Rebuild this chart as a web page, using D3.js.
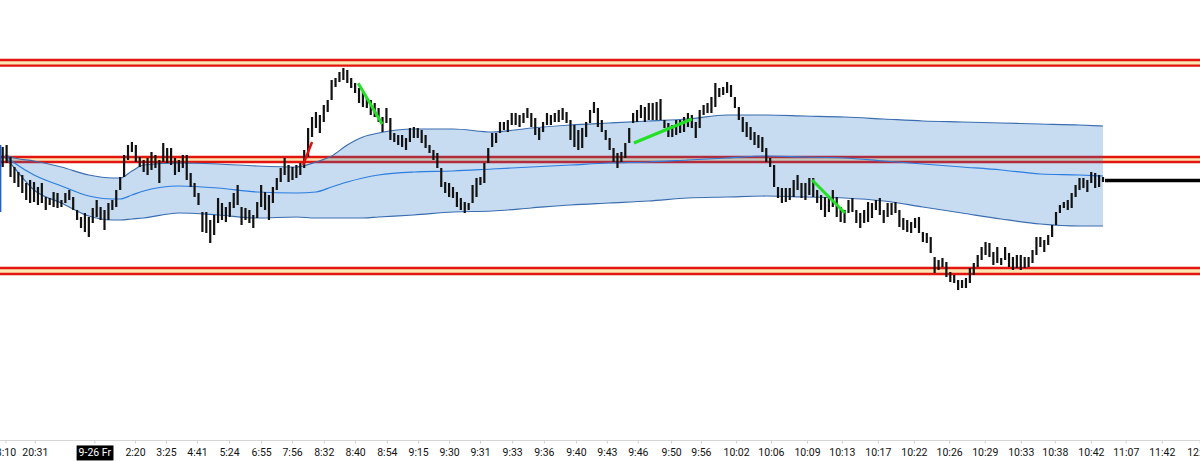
<!DOCTYPE html>
<html><head><meta charset="utf-8">
<script src="https://cdn.jsdelivr.net/npm/d3@7"></script>
<style>html,body{margin:0;padding:0;background:#fff;overflow:hidden}</style>
</head><body><svg id="c" width="1200" height="461"></svg>
<script>
// ---- data (price units) ----
const highs=[2853,2855,2843,2833,2828,2825,2817,2820,2818,2813,
2817,2803,2802,2808,2807,2800,2807,2810,2803,2790,
2783,2787,2783,2792,2800,2793,2790,2797,2800,2810,
2823,2845,2855,2858,2855,2843,2840,2842,2848,2845,
2840,2857,2852,2852,2842,2840,2845,2845,2827,2817,
2807,2788,2788,2780,2785,2802,2797,2793,2798,2807,
2815,2793,2792,2790,2785,2798,2815,2808,2805,2813,
2822,2832,2842,2835,2833,2835,2837,2850,2872,2883,
2888,2885,2895,2900,2920,2922,2928,2932,2930,2922,
2917,2912,2908,2903,2900,2897,2892,2883,2892,2882,
2867,2865,2865,2862,2872,2873,2872,2870,2865,2855,
2850,2847,2832,2818,2817,2813,2808,2802,2798,2797,
2815,2822,2823,2837,2852,2867,2867,2878,2878,2880,
2887,2887,2885,2887,2892,2887,2882,2872,2878,2887,
2885,2887,2890,2892,2888,2880,2875,2870,2872,2878,
2890,2898,2892,2880,2870,2862,2852,2847,2848,2857,
2872,2887,2890,2895,2893,2897,2897,2898,2901,2880,
2877,2875,2880,2880,2883,2887,2885,2878,2890,2895,
2897,2903,2917,2912,2913,2918,2915,2903,2893,2883,
2878,2873,2868,2865,2863,2852,2842,2835,2813,2812,
2812,2812,2820,2825,2817,2817,2822,2822,2810,2805,
2803,2803,2810,2803,2793,2790,2800,2802,2790,2787,
2790,2798,2797,2800,2802,2790,2797,2797,2798,2790,
2782,2780,2778,2782,2783,2768,2767,2763,2743,2740,
2742,2738,2728,2725,2720,2720,2722,2732,2737,2745,
2753,2758,2757,2748,2753,2742,2753,2747,2743,2745,
2745,2743,2743,2750,2763,2763,2760,2765,2775,2788,
2795,2798,2800,2807,2815,2822,2822,2820,2828,2827,
2825,2823];
const lows=[2833,2837,2823,2817,2813,2807,2800,2797,2798,2795,
2797,2790,2795,2793,2792,2793,2797,2800,2790,2780,
2772,2768,2763,2777,2783,2780,2770,2780,2790,2793,
2810,2823,2840,2848,2838,2833,2828,2825,2830,2832,
2817,2838,2837,2835,2825,2828,2832,2820,2813,2803,
2795,2768,2767,2757,2765,2777,2780,2778,2783,2792,
2795,2775,2780,2777,2772,2782,2793,2790,2780,2797,
2810,2818,2825,2818,2820,2822,2825,2832,2843,2863,
2872,2867,2878,2888,2900,2913,2918,2920,2917,2912,
2907,2897,2893,2892,2885,2883,2878,2868,2877,2860,
2858,2855,2853,2850,2858,2862,2862,2857,2852,2847,
2840,2832,2813,2807,2803,2802,2793,2790,2787,2790,
2797,2803,2815,2817,2837,2853,2857,2867,2870,2868,
2875,2875,2873,2877,2882,2873,2865,2860,2868,2875,
2875,2878,2878,2880,2877,2860,2853,2850,2852,2863,
2877,2887,2873,2868,2860,2850,2838,2832,2838,2842,
2857,2877,2878,2882,2878,2880,2880,2880,2880,2872,
2863,2863,2865,2867,2868,2873,2872,2862,2872,2885,
2887,2887,2893,2903,2905,2907,2903,2892,2880,2868,
2863,2860,2855,2852,2848,2838,2833,2813,2802,2797,
2798,2800,2803,2810,2802,2800,2805,2803,2797,2790,
2783,2788,2793,2783,2778,2777,2787,2788,2777,2772,
2777,2778,2782,2790,2785,2777,2783,2785,2787,2773,
2770,2768,2767,2772,2767,2758,2757,2747,2727,2730,
2733,2723,2718,2717,2710,2712,2712,2717,2725,2733,
2740,2745,2743,2735,2737,2735,2740,2733,2730,2732,
2730,2732,2733,2737,2745,2753,2748,2755,2763,2775,
2787,2792,2790,2792,2803,2810,2812,2808,2817,2812,
2813,2818];
const edgeBarIdx=-0.6, edgeBarHigh=2855, edgeBarLow=2788;

const bandIdx=[0.6,3,8,15,22,28,30,33,36,45,55,65,75,80,84,88,92,96,105,115,125,135,145,155,165,175,185,195,205,215,225,235,245,255,265,275,281];
const bandUpper=[2845,2842,2839,2833,2825,2822,2822,2829,2835,2837,2836,2834,2833,2838,2844,2855,2863,2867,2871,2871,2868,2872,2875,2877,2879,2881,2885,2885,2884,2883,2881,2879,2878,2877,2876,2875,2874];
const bandMid=[2844,2837,2825,2814,2804,2801,2801,2805,2809,2814,2812,2808,2807,2808,2813,2818,2822,2825,2828,2829,2831,2833,2835,2837,2838,2840,2842,2844,2843,2842,2839,2836,2833,2830,2826,2825,2824];
const bandLower=[2843,2832,2810,2797,2784,2780,2780,2781,2782,2787,2785,2782,2783,2782,2782,2782,2782,2783,2785,2788,2789,2792,2795,2797,2799,2802,2803,2804,2803,2802,2799,2793,2787,2781,2776,2774,2774];

const levelTop=[2940,2843,2732];
const levelBottom=[2934.3,2838,2726];
const lastPrice=2819.5;

const greenFrom=[[90.8,2916.7],[161.2,2857],[206.7,2820]];
const greenTo=[[96.9,2876],[176.0,2881],[215.1,2787]];
const redFrom=[[76.7,2835]];
const redTo=[[79.0,2858]];

const tickIdx=[0.7,8.2,23.4,33.8,41.7,49.6,57.8,66.0,73.9,82.0,90.0,98.1,106.1,114.0,121.9,130.1,138.2,146.4,154.3,162.2,170.7,178.3,187.3,196.2,205.4,214.3,223.5,232.7,241.7,250.8,260.0,268.7,277.9,286.8,296.0,305.7];
const tickLabels=["8:10","20:31","9-26 Fr","2:20","3:25","4:41","5:24","6:55","7:56","8:32","8:40","8:54","9:15","9:30","9:31","9:33","9:36","9:40","9:43","9:46","9:50","9:56","10:02","10:06","10:09","10:13","10:17","10:22","10:26","10:29","10:33","10:38","10:42","11:07","11:42","12:17"];
const dateLabel="9-26 Fr";

// ---- drawing ----
const W=1200,H=461;
const svg=d3.select("#c");
svg.append("rect").attr("width",W).attr("height",H).attr("fill","#fff");
const x=d3.scaleLinear().domain([0,281]).range([2.7,1103]);
const y=d3.scaleLinear().domain([2560,3000]).range([440,0]);

// levels (cream fill between red lines)
const lv=svg.append("g");
levelTop.forEach((t,i)=>{
  const b=levelBottom[i];
  lv.append("rect").attr("x",0).attr("width",W)
    .attr("y",y(t)).attr("height",y(b)-y(t)).attr("fill","#fbe6b4");
  [t,b].forEach(v=>lv.append("line").attr("x1",0).attr("x2",W)
    .attr("y1",y(v)).attr("y2",y(v)).attr("stroke","#e3160f").attr("stroke-width",2.3));
});

// band
const idxs=d3.range(bandIdx.length);
const area=d3.area().x(i=>x(bandIdx[i])).y0(i=>y(bandLower[i])).y1(i=>y(bandUpper[i])).curve(d3.curveMonotoneX);
svg.append("path").datum(idxs).attr("d",area).attr("fill","#1e6ec8").attr("fill-opacity",0.25);
const mk=arr=>d3.line().x(i=>x(bandIdx[i])).y(i=>y(arr[i])).curve(d3.curveMonotoneX);
svg.append("path").datum(idxs).attr("d",mk(bandUpper)).attr("fill","none").attr("stroke","#3a6db0").attr("stroke-width",1.2);
svg.append("path").datum(idxs).attr("d",mk(bandLower)).attr("fill","none").attr("stroke","#3a6db0").attr("stroke-width",1.2);
svg.append("path").datum(idxs).attr("d",mk(bandMid)).attr("fill","none").attr("stroke","#2b7de0").attr("stroke-width",1.2);

// edge bar
svg.append("line").attr("x1",x(edgeBarIdx)).attr("x2",x(edgeBarIdx))
  .attr("y1",y(edgeBarHigh)).attr("y2",y(edgeBarLow)).attr("stroke","#1f5fd0").attr("stroke-width",2);

// bars
svg.append("g").selectAll("line").data(highs).join("line")
  .attr("x1",(d,i)=>x(i)).attr("x2",(d,i)=>x(i))
  .attr("y1",d=>y(d)).attr("y2",(d,i)=>y(lows[i]))
  .attr("stroke","#111").attr("stroke-width",2.2);

// last price line
svg.append("line").attr("x1",x(281)+2).attr("x2",W)
  .attr("y1",y(lastPrice)).attr("y2",y(lastPrice)).attr("stroke","#000").attr("stroke-width",3.5);

// annotation lines
greenFrom.forEach((f,i)=>{
  const t=greenTo[i];
  svg.append("line").attr("x1",x(f[0])).attr("y1",y(f[1])).attr("x2",x(t[0])).attr("y2",y(t[1]))
    .attr("stroke","#22e022").attr("stroke-width",3);
});
redFrom.forEach((f,i)=>{
  const t=redTo[i];
  svg.append("line").attr("x1",x(f[0])).attr("y1",y(f[1])).attr("x2",x(t[0])).attr("y2",y(t[1]))
    .attr("stroke","#e01010").attr("stroke-width",2.5);
});

// axis
svg.append("line").attr("x1",0).attr("x2",W).attr("y1",440.5).attr("y2",440.5).attr("stroke","#d6d6d6");
const ax=svg.append("g").attr("transform","translate(0,440.5)")
  .call(d3.axisBottom(x).tickValues(tickIdx).tickFormat((d,i)=>tickLabels[i]).tickSize(3).tickPadding(5.5));
ax.select(".domain").remove();
ax.selectAll(".tick line").attr("stroke","#cfcfcf");
ax.selectAll(".tick text").attr("fill","#111").style("font-family","Roboto, 'Open Sans', sans-serif").style("font-size","10.5px");
ax.selectAll(".tick").filter((d,i)=>tickLabels[i]===dateLabel).each(function(){
  const g=d3.select(this); const t=g.select("text");
  const bb=t.node().getBBox();
  g.insert("rect","text").attr("x",bb.x-2).attr("y",bb.y-1).attr("width",bb.width+4).attr("height",bb.height+2).attr("fill","#000");
  t.attr("fill","#fff");
});
</script></body></html>
